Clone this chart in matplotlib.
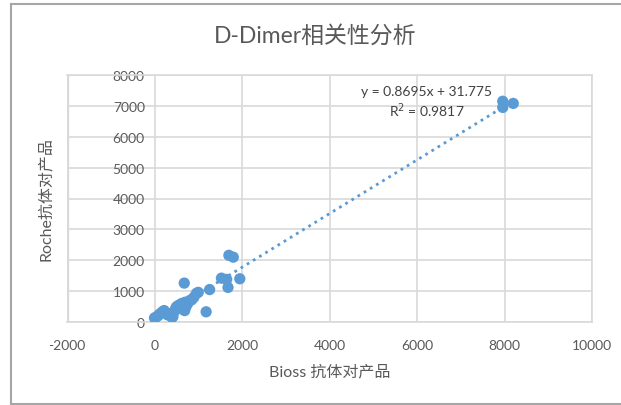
import matplotlib
matplotlib.use("Agg")
import matplotlib.pyplot as plt
from matplotlib.lines import Line2D
import numpy as np

plt.rcParams['font.family'] = ['Lato', 'Noto Sans CJK SC', 'DejaVu Sans']
plt.rcParams['axes.unicode_minus'] = False

title = "D-Dimer相关性分析"
xlabel = "Bioss 抗体对产品"
ylabel = "Roche抗体对产品"
bioss = [0, 30, 80, 120, 180, 220, 260, 300, 350, 400, 420, 450, 480, 500, 540,
         580, 620, 660, 690, 700, 720, 760, 810, 850, 900, 960, 1000, 680, 1180,
         1260, 1530, 1650, 1680, 1700, 1800, 1950, 7960, 7960, 8200]
roche = [130, 150, 200, 260, 330, 370, 300, 230, 260, 150, 170, 330, 420, 490, 530,
         560, 600, 400, 370, 640, 500, 600, 700, 720, 800, 930, 960, 1260, 330,
         1050, 1420, 1380, 1120, 2160, 2100, 1400, 7150, 6950, 7080]
slope, intercept, r2 = 0.8695, 31.775, 0.9817
xticks = [-2000, 0, 2000, 4000, 6000, 8000, 10000]
yticks = [0, 1000, 2000, 3000, 4000, 5000, 6000, 7000, 8000]

W, H = 621, 406
fig = plt.figure(figsize=(W / 100, H / 100), dpi=100)
ax = fig.add_axes([67 / W, 1 - 323 / H, (592 - 67) / W, (323 - 76) / H])

blue = '#5b9bd5'
grid = '#d9d9d9'
txt = '#595959'

ax.set_xlim(xticks[0], xticks[-1])
ax.set_ylim(yticks[0], yticks[-1])
ax.set_xticks(xticks)
ax.set_yticks(yticks)
ax.grid(True, color=grid, lw=1.2)
ax.set_axisbelow(True)
for s in ['top', 'right', 'bottom']:
    ax.spines[s].set_color(grid)
    ax.spines[s].set_linewidth(1.2)
ax.spines['left'].set_position(('data', 0))
ax.spines['left'].set_visible(False)
ax.tick_params(axis='both', length=0, labelsize=10, colors=txt)
ax.tick_params(axis='x', pad=12)
ax.tick_params(axis='y', pad=7)
ax.axvline(xticks[0], color=grid, lw=2.4)

ax.scatter(bioss, roche, s=66, color=blue, zorder=3, edgecolors='none')

xs = np.array([min(bioss), max(bioss)])
ax.plot(xs, slope * xs + intercept, color=blue, lw=2, ls=(0, (1, 1.6)), zorder=2)

fig.text(427 / W, 1 - 92 / H, f"y = {slope}x + {intercept}", fontsize=10,
         color='#404040', ha='center', va='center')
fig.text(427 / W, 1 - 111 / H, f"R$^2$ = {r2}", fontsize=10, color='#404040',
         ha='center', va='center')

fig.text(315 / W, 1 - 36 / H, title, fontsize=16.5, color=txt, ha='center', va='center')
ax.set_xlabel(xlabel, fontsize=11.5, color=txt)
ax.xaxis.set_label_coords(0.5, -(372 - 323) / (323 - 76))
ax.set_ylabel(ylabel, fontsize=11.5, color=txt)
ax.yaxis.set_label_coords(-(67 - 45) / (592 - 67), 0.5)
ax.xaxis.label.set_va('center')
ax.yaxis.label.set_va('center')

bc = '#a6a6a6'
fig.add_artist(Line2D([10.5 / W, 10.5 / W], [1 - 4.5 / H, 1 - 404.5 / H], color=bc, lw=1.5))
fig.add_artist(Line2D([10.5 / W, 1], [1 - 4.5 / H, 1 - 4.5 / H], color=bc, lw=1.5))
fig.add_artist(Line2D([10.5 / W, 1], [1 - 404.5 / H, 1 - 404.5 / H], color=bc, lw=1.5))

fig.savefig('out.png', dpi=100)
